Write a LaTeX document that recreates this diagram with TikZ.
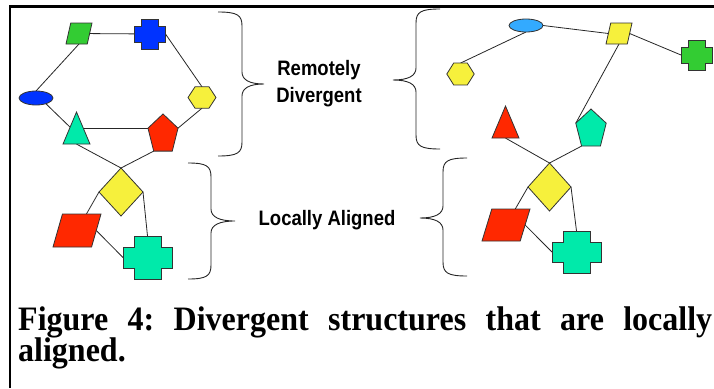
\documentclass[tikz,border=0pt]{standalone}
\usepackage{fontspec}
\usetikzlibrary{shapes.geometric,backgrounds}
\newfontfamily\labfont{Liberation Sans}
\newfontfamily\capfont{Liberation Serif}
\definecolor{cgreen}{RGB}{51,204,51}
\definecolor{cblue}{RGB}{0,51,255}
\definecolor{cyellow}{RGB}{246,240,60}
\definecolor{cteal}{RGB}{0,234,170}
\definecolor{cred}{RGB}{255,40,0}
\definecolor{clblue}{RGB}{51,170,255}
\frenchspacing
\tikzset{
  outl/.style={draw=black!80, line width=0.8pt},
  shp/.style={outl, inner sep=1pt, outer sep=0pt},
  para/.style={shp, trapezium, trapezium stretches=true},
  ell/.style={shp, ellipse},
  hexa/.style={shp, regular polygon, regular polygon sides=6},
  tria/.style={shp, regular polygon, regular polygon sides=3},
  penta/.style={shp, regular polygon, regular polygon sides=5},
  dia/.style={shp, diamond},
  crossbox/.style={inner sep=0pt, outer sep=0pt},
  link/.style={draw=black!85, line width=0.8pt},
  bracestyle/.style={draw=black!85, line width=0.9pt},
  lab/.style={font=\labfont\bfseries\fontsize{18.5}{24}\selectfont, align=center, inner sep=0pt, yscale=1.13},
  captext/.style={font=\capfont\bfseries\fontsize{32}{32}\selectfont, inner sep=0pt, anchor=base west, yscale=1.07}
}
% cross drawn round a named box node: name, width, height, notch, colour
\newcommand{\plusat}[5]{%
  \filldraw[outl, fill=#5, shift={(#1.center)}]
    ({-#2/2+#4},{-#3/2}) -- ({#2/2-#4},{-#3/2}) -- ({#2/2-#4},{-#3/2+#4}) -- ({#2/2},{-#3/2+#4})
    -- ({#2/2},{#3/2-#4}) -- ({#2/2-#4},{#3/2-#4}) -- ({#2/2-#4},{#3/2}) -- ({-#2/2+#4},{#3/2})
    -- ({-#2/2+#4},{#3/2-#4}) -- ({-#2/2},{#3/2-#4}) -- ({-#2/2},{-#3/2+#4}) -- ({-#2/2+#4},{-#3/2+#4}) -- cycle;}
% brace: x end, x of stem, x of tip, y top, y bottom, y tip
\newcommand{\mybrace}[6]{%
  \draw[bracestyle] (#1,#4) .. controls ({#1+0.8*(#2-#1)},#4) and (#2,{#4+3}) .. (#2,{#4+14})
    -- (#2,{#6-12}) .. controls (#2,{#6-4}) and ({#2+0.35*(#3-#2)},#6) .. (#3,#6)
    .. controls ({#2+0.35*(#3-#2)},#6) and (#2,{#6+4}) .. (#2,{#6+12})
    -- (#2,{#5-14}) .. controls (#2,{#5-3}) and ({#1+0.8*(#2-#1)},#5) .. (#1,#5);}
\begin{document}
\begin{tikzpicture}[x=1pt,y=-1pt]
\useasboundingbox (0,0) rectangle (714,388);
% frame
\draw[line width=2.7pt] (10,388) -- (10,6.5) -- (714,6.5);

% ---- left graph ----
\node[para, fill=cgreen, minimum width=26pt, minimum height=21pt,
      trapezium left angle=74, trapezium right angle=106] (gp) at (79,33.5) {};
\node[crossbox, minimum width=31pt, minimum height=30pt] (bc) at (150,34) {};
\plusat{bc}{31}{30}{7}{cblue}
\node[ell, fill=cblue, minimum width=34pt, minimum height=14pt] (bel) at (36,98) {};
\node[hexa, fill=cyellow, minimum size=28pt, yscale=0.88] (yh) at (202,97.5) {};
\node[tria, fill=cteal, minimum size=31.2pt, yscale=1.37] (tri) at (76.5,133.4) {};
\node[penta, fill=cred, minimum size=31.6pt, yscale=1.3] (rp) at (163,134.5) {};
\node[dia, fill=cyellow, minimum width=44pt, minimum height=48pt] (dm) at (121,192) {};
\node[para, fill=cred, minimum width=48pt, minimum height=33pt,
      trapezium left angle=72, trapezium right angle=108] (rpa) at (77,230.5) {};
\node[crossbox, minimum width=49pt, minimum height=43pt] (tc) at (147.5,257.5) {};
\plusat{tc}{49}{43}{11}{cteal}

% ---- right graph ----
\node[ell, fill=clblue, minimum width=34pt, minimum height=13pt] (lbe) at (526,25.5) {};
\node[para, fill=cyellow, minimum width=26pt, minimum height=21pt,
      trapezium left angle=74, trapezium right angle=106] (yp) at (619,33.5) {};
\node[crossbox, minimum width=31pt, minimum height=30pt] (gc) at (696.5,55) {};
\plusat{gc}{31}{30}{7}{cgreen}
\node[hexa, fill=cyellow, minimum size=27.4pt, yscale=0.92] (yh2) at (460.5,74) {};
\node[tria, fill=cred, minimum size=31.2pt, yscale=1.37] (rt) at (505.5,127.4) {};
\node[penta, fill=cteal, minimum size=32pt, yscale=1.28] (tp) at (591,129.5) {};
\node[dia, fill=cyellow, minimum width=43pt, minimum height=48pt] (dm2) at (549.5,187) {};
\node[para, fill=cred, minimum width=48pt, minimum height=32pt,
      trapezium left angle=71, trapezium right angle=109] (rpa2) at (506,225) {};
\node[crossbox, minimum width=49pt, minimum height=42pt] (tc2) at (576.5,252) {};
\plusat{tc2}{49}{42}{11}{cteal}

% ---- connectors ----
\begin{pgfonlayer}{background}
\draw[link] (gp.center) -- (bc.center);
\draw[link] (gp.south) -- (bel.north);
\draw[link] (bc.east) -- (yh.north);
\draw[link] (bel.-30) -- (tri.center);
\draw[link] (rp.corner 2) -- (rp.corner 2 -| tri.center);
\draw[link] (yh.south) -- (rp.corner 5);
\draw[link] (tri.south) -- (dm.north);
\draw[link] (rp.corner 3) -- (dm.north);
\draw[link] (dm.west) -- (rpa.center);
\draw[link] (dm.east) -- (tc.north);
\draw[link] (rpa.east) -- (tc.west);

\draw[link] (lbe.east) -- (yp.west);
\draw[link] (lbe.south) -- (yh2.north);
\draw[link] (yp.east) -- (gc.west);
\draw[link] (yp.south) -- (tp.corner 2);
\draw[link] (rt.south) -- (dm2.north);
\draw[link] (tp.corner 3) -- (dm2.north);
\draw[link] (dm2.west) -- (rpa2.center);
\draw[link] (dm2.east) -- (tc2.north);
\draw[link] (rpa2.east) -- (tc2.west);
\end{pgfonlayer}

% ---- braces ----
\mybrace{218}{242}{264}{12}{156}{84}
\mybrace{188}{211}{235}{163}{279}{221}
\mybrace{440}{416}{393}{9}{149}{80}
\mybrace{467}{443}{420}{158}{276}{218}

% ---- labels ----
\node[lab] (rd) at (319,84) {Remotely\\Divergent};
\node[lab, anchor=base] (la) at (327,225) {Locally Aligned};

% ---- caption ----
\node[captext] (cap1) at (18,330) {\makebox[694pt][s]{Figure 4: Divergent structures that are locally}};
\node[captext] (cap2) at (18,361.5) {aligned.};
\end{tikzpicture}
\end{document}
